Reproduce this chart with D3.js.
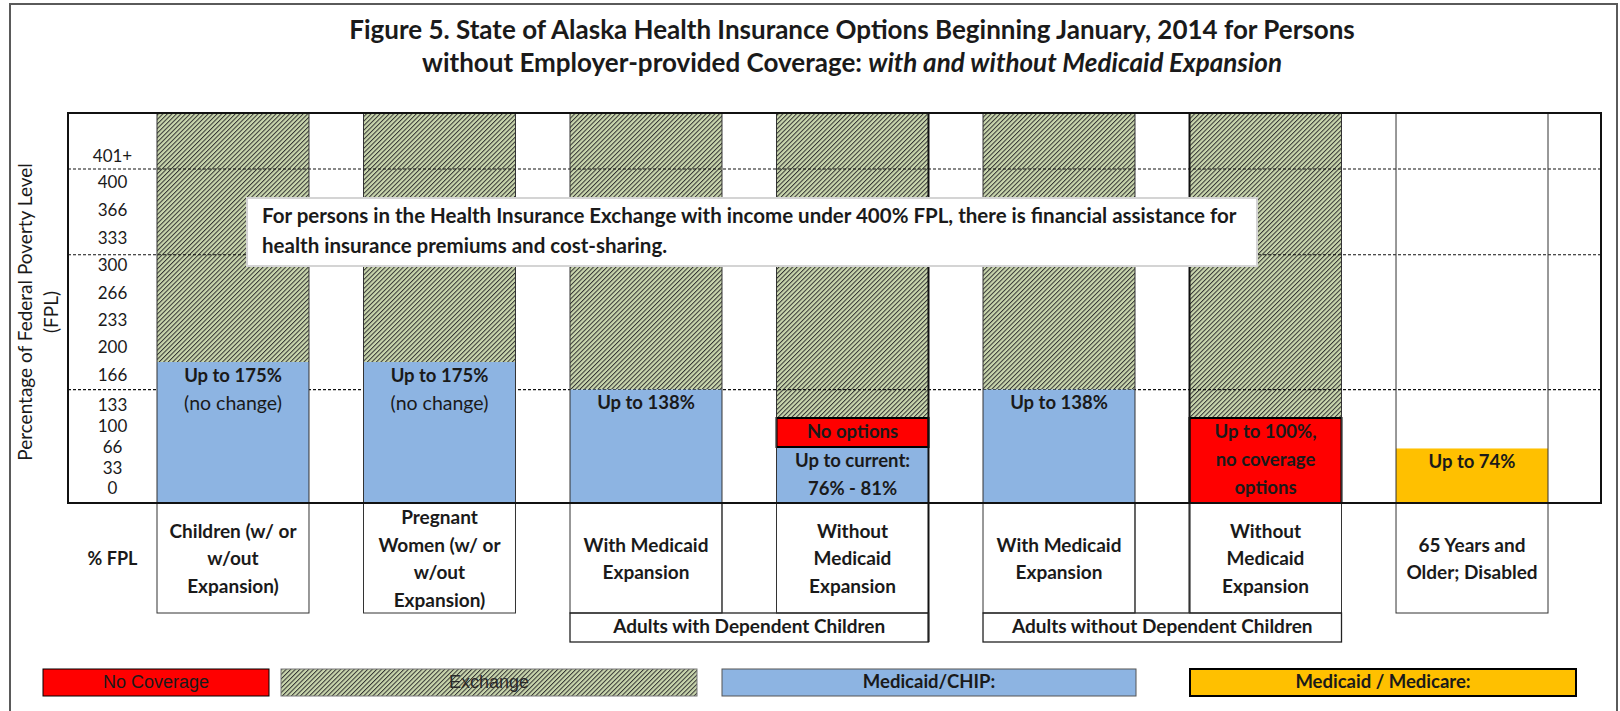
<!DOCTYPE html>
<html>
<head>
<meta charset="utf-8">
<script src="https://cdn.jsdelivr.net/npm/d3@7"></script>
<style>
  body { margin: 0; background: #fff; }
  text { font-family: Lato, "Open Sans", sans-serif; fill: #1a1a1a; }
</style>
</head>
<body>
<script>
var W = 1620, H = 711;

// ---- data ----
var columns = ["children", "pregnant", "depWith", "depWithout", "noDepWith", "noDepWithout", "senior"];
var columnLabels = [
  ["Children (w/ or", "w/out", "Expansion)"],
  ["Pregnant", "Women (w/ or", "w/out", "Expansion)"],
  ["With Medicaid", "Expansion"],
  ["Without", "Medicaid", "Expansion"],
  ["With Medicaid", "Expansion"],
  ["Without", "Medicaid", "Expansion"],
  ["65 Years and", "Older; Disabled"]
];
var medicaidUpTo   = [175, 175, 138, 76, 138, 0, 0];
var noCoverageUpTo = [0, 0, 0, 100, 0, 100, 0];
var medicareUpTo   = [0, 0, 0, 0, 0, 0, 74];
var hasExchange    = [true, true, true, true, true, true, false];
var medicaidLabels = [
  ["Up to 175%", "(no change)"], ["Up to 175%", "(no change)"], ["Up to 138%"],
  ["Up to current:", "76% - 81%"], ["Up to 138%"], [], []
];
var noCoverageLabels = [[], [], [], ["No options"], [], ["Up to 100%,", "no coverage", "options"], []];
var medicareLabels = [[], [], [], [], [], [], ["Up to 74%"]];

var groupNames = ["Adults with Dependent Children", "Adults without Dependent Children"];
var groupCols = [["depWith", "depWithout"], ["noDepWith", "noDepWithout"]];

var tickLabels = ["0", "33", "66", "100", "133", "166", "200", "233", "266", "300", "333", "366", "400", "401+"];
var tickValues = [0, 33, 66, 100, 133, 166, 200, 233, 266, 300, 333, 366, 400, 433];
var dashedAt = [138, 300, 400];
var yMax = 450;

var legendLabels = ["No Coverage", "Exchange", "Medicaid/CHIP:", "Medicaid / Medicare:"];
var legendKinds = ["none", "exchange", "medicaid", "medicare"];

var titleLine1 = "Figure 5. State of Alaska Health Insurance Options Beginning January, 2014 for Persons";
var titleLine2a = "without Employer-provided Coverage: ";
var titleLine2b = "with and without Medicaid Expansion";
var noteLines = [
  "For persons in the Health Insurance Exchange with income under 400% FPL, there is financial assistance for",
  "health insurance premiums and cost-sharing."
];

// ---- layout ----
var plot = { left: 68, right: 1601, top: 113, bottom: 503 };
var tableBottom = 613, groupBottom = 642;
var legendX = [[43, 269], [281, 697], [722, 1136], [1190, 1576]];
var fills = { medicaid: "#8db4e2", none: "#ff0000", medicare: "#ffc000", exchange: "url(#hatch)" };

var svg = d3.select("body").append("svg").attr("width", W).attr("height", H);

var pat = svg.append("defs").append("pattern")
  .attr("id", "hatch").attr("patternUnits", "userSpaceOnUse")
  .attr("width", 3.2).attr("height", 3.2)
  .attr("patternTransform", "rotate(45)");
pat.append("rect").attr("width", 3.2).attr("height", 3.2).attr("fill", "#cad7ae");
pat.append("line").attr("x1", 0.5).attr("y1", 0).attr("x2", 0.5).attr("y2", 3.2)
  .attr("stroke", "#333").attr("stroke-width", 1);

var x = d3.scaleBand().domain(columns).range([157, 1548]).paddingInner(0.264);
var y = d3.scaleLinear().domain([0, 76, 100, 175, 400, yMax]).range([503, 447, 418, 362, 169, 113]);
var tickY = d3.scaleLinear().domain([0, 133, 166, 400, 433]).range([490, 407, 377, 184, 158]);
var bw = x.bandwidth();

// outer frame
svg.append("rect").attr("x", 10).attr("y", 4).attr("width", 1607).attr("height", 720)
  .attr("fill", "none").attr("stroke", "#5a5a5a").attr("stroke-width", 2);

// title
svg.append("text").attr("x", 852).attr("y", 32).attr("text-anchor", "middle")
  .attr("dominant-baseline", "middle").style("font-size", "26px").style("font-weight", 700)
  .text(titleLine1);
var t2 = svg.append("text").attr("x", 852).attr("y", 65).attr("text-anchor", "middle")
  .attr("dominant-baseline", "middle").style("font-size", "26px").style("font-weight", 700);
t2.append("tspan").text(titleLine2a);
t2.append("tspan").style("font-style", "italic").text(titleLine2b);

// segments
var segments = [];
columns.forEach(function (c, i) {
  var top = 0;
  if (medicaidUpTo[i] > 0) { segments.push({ col: c, y0: 0, y1: medicaidUpTo[i], kind: "medicaid", lines: medicaidLabels[i] }); top = medicaidUpTo[i]; }
  if (noCoverageUpTo[i] > 0) { segments.push({ col: c, y0: top, y1: noCoverageUpTo[i], kind: "none", lines: noCoverageLabels[i] }); top = noCoverageUpTo[i]; }
  if (medicareUpTo[i] > 0) { segments.push({ col: c, y0: 0, y1: medicareUpTo[i], kind: "medicare", lines: medicareLabels[i] }); top = medicareUpTo[i]; }
  if (hasExchange[i]) segments.push({ col: c, y0: top, y1: yMax, kind: "exchange", lines: [] });
});

var hatchSegs = segments.filter(function (d) { return d.kind === "exchange"; });
var solidSegs = segments.filter(function (d) { return d.kind !== "exchange"; });

svg.append("g").selectAll("rect").data(hatchSegs).enter().append("rect")
  .attr("x", function (d) { return x(d.col); }).attr("width", bw)
  .attr("y", function (d) { return y(d.y1); })
  .attr("height", function (d) { return y(d.y0) - y(d.y1); })
  .attr("fill", fills.exchange);

// dashed grid lines
svg.append("g").selectAll("line").data(dashedAt).enter().append("line")
  .attr("x1", plot.left).attr("x2", plot.right)
  .attr("y1", function (d) { return y(d); }).attr("y2", function (d) { return y(d); })
  .attr("stroke", "#111").attr("stroke-width", 1.1).attr("stroke-dasharray", "3,2");

svg.append("g").selectAll("rect").data(solidSegs).enter().append("rect")
  .attr("x", function (d) { return x(d.col); }).attr("width", bw)
  .attr("y", function (d) { return y(d.y1); })
  .attr("height", function (d) { return y(d.y0) - y(d.y1); })
  .attr("fill", function (d) { return fills[d.kind]; })
  .attr("stroke", function (d) { return d.kind === "none" ? "#000" : "none"; })
  .attr("stroke-width", 2);

// column outlines through plot and table
svg.append("g").selectAll("rect").data(columns).enter().append("rect")
  .attr("x", function (d) { return x(d); }).attr("width", bw)
  .attr("y", plot.top).attr("height", tableBottom - plot.top)
  .attr("fill", "none").attr("stroke", "#333").attr("stroke-width", 1);

// heavier outer edges of the "without expansion" columns
svg.append("line").attr("x1", x("depWithout") + bw).attr("x2", x("depWithout") + bw)
  .attr("y1", plot.top).attr("y2", groupBottom).attr("stroke", "#111").attr("stroke-width", 2);
svg.append("line").attr("x1", x("noDepWithout")).attr("x2", x("noDepWithout"))
  .attr("y1", plot.top).attr("y2", tableBottom).attr("stroke", "#111").attr("stroke-width", 2);

// group rows
groupCols.forEach(function (g, i) {
  var gx0 = x(g[0]), gx1 = x(g[g.length - 1]) + bw;
  svg.append("rect").attr("x", gx0).attr("y", tableBottom).attr("width", gx1 - gx0)
    .attr("height", groupBottom - tableBottom).attr("fill", "none")
    .attr("stroke", "#222").attr("stroke-width", 1.3);
  svg.append("line").attr("x1", x(g[0]) + bw).attr("x2", x(g[0]) + bw)
    .attr("y1", plot.bottom).attr("y2", tableBottom).attr("stroke", "#333");
  svg.append("line").attr("x1", x(g[1])).attr("x2", x(g[1]))
    .attr("y1", plot.bottom).attr("y2", tableBottom).attr("stroke", "#333");
  svg.append("text").attr("x", (gx0 + gx1) / 2).attr("y", (tableBottom + groupBottom) / 2 + 1)
    .attr("text-anchor", "middle").attr("dominant-baseline", "middle")
    .style("font-size", "19px").style("font-weight", 700).text(groupNames[i]);
});

// plot border
svg.append("rect").attr("x", plot.left).attr("y", plot.top)
  .attr("width", plot.right - plot.left).attr("height", plot.bottom - plot.top)
  .attr("fill", "none").attr("stroke", "#111").attr("stroke-width", 2);

// segment labels
solidSegs.forEach(function (d) {
  d.lines.forEach(function (line, j) {
    var plain = line.charAt(0) === "(";
    svg.append("text")
      .attr("x", x(d.col) + bw / 2).attr("y", y(d.y1) + 15 + j * 28)
      .attr("text-anchor", "middle").attr("dominant-baseline", "middle")
      .style("font-size", plain ? "19.5px" : "18.5px")
      .style("font-weight", plain ? 400 : 700)
      .text(line);
  });
});

// y tick labels
var tickX = (plot.left + x(columns[0])) / 2;
svg.append("g").selectAll("text").data(tickLabels).enter().append("text")
  .attr("x", tickX).attr("y", function (d, i) { return tickY(tickValues[i]); })
  .attr("text-anchor", "middle").attr("dominant-baseline", "middle")
  .style("font-size", "17px").text(function (d) { return d; });

// y axis title
var yt = svg.append("g").attr("transform", "translate(40,312) rotate(-90)");
yt.append("text").attr("x", 0).attr("y", -13).attr("text-anchor", "middle")
  .attr("dominant-baseline", "middle").style("font-size", "19px").text("Percentage of Federal Poverty Level");
yt.append("text").attr("x", 0).attr("y", 13).attr("text-anchor", "middle")
  .attr("dominant-baseline", "middle").style("font-size", "19px").text("(FPL)");

// column labels in table
var cellMid = 560.5;
columns.forEach(function (c, i) {
  var lines = columnLabels[i];
  lines.forEach(function (line, j) {
    svg.append("text").attr("x", x(c) + bw / 2)
      .attr("y", cellMid + (j - (lines.length - 1) / 2) * 27.5)
      .attr("text-anchor", "middle").attr("dominant-baseline", "middle")
      .style("font-size", "19px").style("font-weight", 700).text(line);
  });
});
svg.append("text").attr("x", tickX).attr("y", cellMid).attr("text-anchor", "middle")
  .attr("dominant-baseline", "middle").style("font-size", "18px").style("font-weight", 700).text("% FPL");

// note box
svg.append("rect").attr("x", 247).attr("y", 198).attr("width", 1010).attr("height", 68)
  .attr("fill", "#fff").attr("stroke", "#d4d4d4").attr("stroke-width", 2);
noteLines.forEach(function (line, j) {
  svg.append("text").attr("x", 262).attr("y", 218 + j * 30)
    .attr("dominant-baseline", "middle").style("font-size", "20.5px").style("font-weight", 700).text(line);
});

// legend
var lg = svg.append("g");
legendLabels.forEach(function (label, i) {
  var k = legendKinds[i], x0 = legendX[i][0], x1 = legendX[i][1];
  lg.append("rect").attr("x", x0).attr("y", 669).attr("width", x1 - x0).attr("height", 27)
    .attr("fill", fills[k])
    .attr("stroke", k === "exchange" ? "#777" : (k === "medicaid" ? "#555" : "#000"))
    .attr("stroke-width", k === "medicare" ? 2 : 1);
  var narrow = (k === "none" || k === "exchange");
  lg.append("text").attr("x", (x0 + x1) / 2).attr("y", 683)
    .attr("text-anchor", "middle").attr("dominant-baseline", "middle")
    .style("font-family", narrow ? "'Liberation Sans Narrow', 'Liberation Sans', Arial, sans-serif" : null)
    .style("font-size", narrow ? "18px" : "18.5px")
    .style("font-weight", narrow ? 400 : 700)
    .style("fill", k === "exchange" ? "#2a2a2a" : "#1a1a1a")
    .text(label);
});
</script>
</body>
</html>
